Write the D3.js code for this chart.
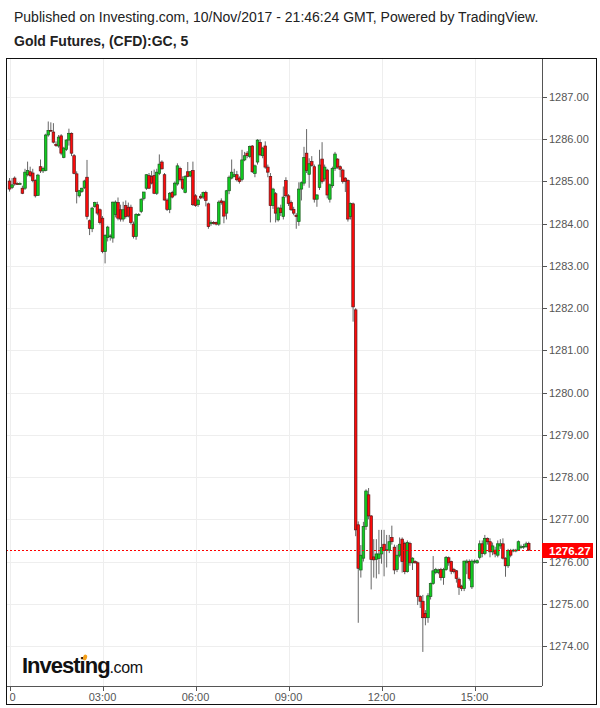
<!DOCTYPE html>
<html><head><meta charset="utf-8">
<script src="https://cdn.jsdelivr.net/npm/d3@7"></script>
<style>body{margin:0;background:#fff;}svg{display:block;font-family:"Liberation Sans",Arial,sans-serif;}</style>
</head><body><svg id="c" width="600" height="708"></svg>
<script>
// ---- data (5-minute candles, index 0 = 00:00) ----
const opens = [1285.01,1284.86,1285.08,1284.95,1284.94,1284.84,1284.84,1285.16,1285.23,1285.20,1285.02,1284.67,1285.35,1285.25,1285.26,1286.10,1286.21,1286.17,1285.88,1285.84,1286.08,1285.57,1285.76,1285.98,1286.14,1285.61,1285.18,1284.66,1284.76,1284.86,1285.10,1284.07,1283.88,1284.41,1284.45,1284.33,1284.13,1283.34,1283.67,1283.70,1283.66,1284.22,1284.50,1284.33,1284.11,1284.43,1284.39,1284.39,1283.99,1283.70,1284.20,1284.29,1284.60,1284.84,1285.14,1285.12,1285.14,1284.72,1285.19,1285.46,1285.16,1284.56,1284.34,1284.74,1284.68,1284.94,1285.31,1285.05,1284.74,1285.23,1285.13,1285.26,1284.66,1284.45,1284.65,1284.63,1284.74,1284.47,1284.00,1284.03,1284.03,1283.99,1284.54,1284.52,1284.25,1284.78,1285.08,1285.12,1285.16,1285.08,1285.05,1285.51,1285.67,1285.59,1285.84,1285.19,1285.46,1285.92,1285.61,1285.84,1285.34,1285.12,1284.43,1284.71,1284.09,1284.37,1284.17,1285.02,1284.66,1284.50,1284.34,1284.20,1284.05,1284.82,1284.96,1285.67,1285.17,1285.47,1285.35,1284.58,1284.86,1285.53,1285.06,1285.27,1284.58,1284.90,1285.31,1285.53,1285.35,1285.27,1285.08,1285.02,1284.17,1284.47,1281.96,1276.87,1275.80,1276.08,1276.83,1277.58,1277.08,1276.11,1276.05,1276.07,1276.18,1276.41,1276.26,1276.27,1276.57,1276.34,1275.81,1276.15,1276.53,1276.43,1275.76,1276.43,1275.97,1276.00,1275.97,1275.17,1275.06,1274.77,1274.67,1275.17,1275.48,1275.74,1275.74,1275.81,1275.62,1275.81,1276.09,1276.00,1275.81,1275.78,1275.58,1275.42,1275.36,1275.97,1276.00,1275.40,1275.99,1275.97,1276.10,1276.42,1276.19,1276.55,1276.47,1276.23,1276.27,1276.15,1276.37,1276.42,1276.08,1275.90,1276.26,1276.25,1276.25,1276.27,1276.33,1276.35,1276.35,1276.43];
const highs = [1285.08,1285.08,1285.12,1284.98,1284.98,1284.90,1285.30,1285.47,1285.35,1285.30,1285.05,1285.18,1285.52,1285.35,1286.13,1286.42,1286.40,1286.38,1285.95,1286.10,1286.12,1285.82,1286.00,1286.25,1286.16,1285.65,1285.24,1284.80,1284.85,1285.04,1285.51,1284.10,1284.40,1284.52,1284.52,1284.36,1284.18,1283.75,1283.95,1283.75,1284.52,1284.55,1284.62,1284.45,1284.52,1284.55,1284.50,1284.45,1284.05,1284.25,1284.25,1284.60,1284.75,1285.17,1285.20,1285.25,1285.28,1285.30,1285.64,1285.50,1285.20,1284.60,1284.75,1284.78,1285.00,1285.43,1285.35,1285.12,1285.15,1285.46,1285.25,1285.47,1284.70,1284.60,1284.70,1284.76,1284.78,1284.50,1284.08,1284.06,1284.05,1284.55,1284.60,1284.55,1284.80,1285.14,1285.52,1285.30,1285.25,1285.12,1285.75,1285.70,1285.72,1285.85,1285.86,1285.40,1286.00,1286.00,1285.82,1285.95,1285.40,1285.20,1284.85,1284.75,1284.40,1284.45,1284.88,1285.10,1284.70,1284.55,1284.40,1284.25,1284.98,1285.00,1285.82,1286.24,1285.55,1285.60,1285.40,1284.70,1285.75,1285.93,1285.40,1285.30,1284.95,1285.35,1285.70,1285.55,1285.38,1285.30,1285.10,1285.05,1284.50,1284.50,1282.00,1276.95,1276.39,1276.94,1277.71,1277.74,1277.10,1276.53,1276.53,1276.75,1276.75,1276.75,1276.63,1276.63,1276.85,1276.40,1276.39,1276.57,1276.57,1276.47,1276.50,1276.47,1276.10,1276.03,1276.00,1275.20,1275.21,1274.85,1275.25,1275.50,1276.13,1275.85,1275.83,1275.85,1275.85,1276.13,1276.12,1276.02,1275.85,1275.80,1275.62,1275.45,1276.02,1276.05,1276.05,1276.05,1276.05,1276.05,1276.50,1276.50,1276.63,1276.57,1276.55,1276.45,1276.35,1276.50,1276.53,1276.55,1276.10,1276.30,1276.30,1276.30,1276.30,1276.50,1276.40,1276.42,1276.47,1276.47];
const lows = [1284.76,1284.82,1284.90,1284.92,1284.92,1284.70,1284.80,1285.12,1285.10,1284.98,1284.62,1284.66,1285.20,1285.20,1285.24,1286.06,1286.18,1285.90,1285.82,1285.80,1285.62,1285.55,1285.72,1285.85,1285.60,1285.17,1284.48,1284.62,1284.73,1284.82,1284.10,1283.73,1283.80,1284.38,1284.20,1283.98,1283.30,1283.06,1283.58,1283.60,1283.55,1284.15,1284.08,1284.05,1284.05,1284.12,1284.15,1283.98,1283.65,1283.62,1284.18,1284.25,1284.55,1284.80,1284.82,1284.93,1284.70,1284.68,1285.15,1285.28,1284.55,1284.30,1284.25,1284.60,1284.65,1284.90,1285.00,1284.80,1284.72,1285.10,1285.10,1284.42,1284.40,1284.40,1284.58,1284.58,1284.41,1283.88,1283.95,1283.98,1283.96,1283.95,1284.45,1284.01,1284.10,1284.70,1285.05,1285.10,1285.00,1284.95,1285.00,1285.48,1285.55,1285.55,1285.20,1285.10,1285.40,1285.60,1285.55,1285.30,1285.10,1284.03,1284.35,1284.03,1284.05,1284.18,1284.10,1284.62,1284.42,1284.30,1284.20,1283.88,1283.95,1284.55,1284.90,1285.20,1284.85,1285.35,1284.50,1284.40,1284.80,1284.95,1285.00,1284.60,1284.50,1284.85,1285.25,1285.30,1285.10,1284.95,1284.75,1284.05,1284.10,1281.68,1276.60,1274.55,1275.62,1276.00,1276.75,1277.00,1275.34,1275.62,1275.60,1275.70,1275.95,1275.65,1275.86,1276.20,1276.40,1275.70,1275.75,1276.10,1275.74,1275.70,1275.74,1275.90,1275.80,1275.95,1274.97,1274.90,1273.86,1274.49,1274.55,1275.10,1275.45,1275.70,1275.70,1275.55,1275.45,1275.78,1275.90,1275.70,1275.72,1275.50,1275.21,1275.30,1275.30,1275.70,1275.55,1275.35,1275.95,1275.95,1276.05,1276.10,1276.15,1276.40,1276.10,1276.15,1276.10,1276.10,1276.30,1276.05,1275.64,1275.85,1276.10,1276.22,1276.22,1276.25,1276.30,1276.30,1276.33,1276.25];
const closes = [1284.82,1284.92,1284.94,1284.94,1284.95,1284.72,1285.22,1285.26,1285.14,1285.02,1284.66,1285.15,1285.25,1285.31,1286.10,1286.21,1286.20,1285.93,1285.85,1286.05,1285.67,1285.79,1285.98,1286.14,1285.67,1285.19,1284.76,1284.78,1284.84,1285.01,1284.17,1283.89,1284.37,1284.50,1284.25,1284.03,1283.34,1283.72,1283.92,1283.71,1284.51,1284.51,1284.13,1284.11,1284.33,1284.17,1284.18,1284.03,1283.70,1284.22,1284.22,1284.58,1284.75,1285.16,1284.84,1284.96,1284.72,1285.22,1285.41,1285.30,1284.56,1284.34,1284.72,1284.63,1284.96,1285.37,1285.04,1284.84,1285.12,1285.12,1285.23,1284.45,1284.43,1284.56,1284.61,1284.74,1284.55,1283.93,1284.03,1284.01,1283.99,1284.51,1284.50,1284.18,1284.78,1285.10,1285.22,1285.16,1285.04,1285.00,1285.51,1285.61,1285.61,1285.83,1285.23,1285.37,1285.98,1285.63,1285.79,1285.34,1285.22,1284.43,1284.82,1284.25,1284.37,1284.26,1284.63,1284.66,1284.48,1284.33,1284.25,1284.17,1284.82,1284.97,1285.57,1285.26,1285.42,1285.38,1284.58,1284.68,1285.39,1285.00,1285.34,1284.68,1284.92,1285.31,1285.65,1285.34,1285.29,1285.00,1285.00,1284.11,1284.48,1282.03,1276.75,1275.84,1276.15,1276.83,1277.67,1277.08,1276.05,1276.04,1276.18,1276.18,1276.33,1276.26,1276.28,1276.47,1276.47,1275.80,1276.15,1276.41,1276.00,1275.76,1276.45,1275.97,1276.08,1275.97,1275.17,1275.06,1274.67,1274.67,1275.19,1275.48,1275.78,1275.81,1275.80,1275.62,1275.81,1276.10,1275.97,1275.77,1275.76,1275.60,1275.39,1275.36,1276.01,1276.01,1275.60,1276.01,1276.01,1276.02,1276.42,1276.19,1276.55,1276.47,1276.23,1276.37,1276.18,1276.42,1276.42,1276.08,1275.90,1276.26,1276.15,1276.27,1276.27,1276.47,1276.35,1276.36,1276.42,1276.27];
const yTickValues = [1274,1275,1276,1277,1278,1279,1280,1281,1282,1283,1284,1285,1286,1287];
const xTickHours = [0,3,6,9,12,15];
const xTickLabels = ["10","03:00","06:00","09:00","12:00","15:00"];
const lastPrice = 1276.27;
const candlesPerHour = 12;

// ---- drawing ----
const svg = d3.select("#c");
const plotL = 6, plotR = 542, plotT = 58, plotB = 686;
const x = d3.scaleLinear().domain([0, 15*candlesPerHour]).range([9.5, 474.5]);
const y = d3.scaleLinear().domain([1274, 1287]).range([646, 97]);

svg.append("rect").attr("width",600).attr("height",708).attr("fill","#fff");

// header
svg.append("text").attr("x",14).attr("y",22).attr("font-size",14).attr("fill","#222")
  .text("Published on Investing.com, 10/Nov/2017 - 21:46:24 GMT, Powered by TradingView.");
svg.append("text").attr("x",14).attr("y",46).attr("font-size",14).attr("font-weight","bold").attr("fill","#222")
  .text("Gold Futures, (CFD):GC, 5");

const defs = svg.append("defs");
defs.append("clipPath").attr("id","plotclip").append("rect")
  .attr("x",plotL+1).attr("y",plotT+1).attr("width",plotR-plotL-1).attr("height",plotB-plotT-1);
defs.append("clipPath").attr("id","labelclip").append("rect")
  .attr("x",9.5).attr("y",687).attr("width",587).attr("height",18);

const plot = svg.append("g").attr("clip-path","url(#plotclip)");

// grid
plot.selectAll("line.hg").data(yTickValues).join("line").attr("class","hg")
  .attr("x1",plotL).attr("x2",plotR).attr("y1",d=>Math.round(y(d))+0.5).attr("y2",d=>Math.round(y(d))+0.5)
  .attr("stroke","#eeeeee");
plot.selectAll("line.vg").data(xTickHours).join("line").attr("class","vg")
  .attr("x1",d=>Math.round(x(d*candlesPerHour))+0.5).attr("x2",d=>Math.round(x(d*candlesPerHour))+0.5)
  .attr("y1",plotT).attr("y2",plotB).attr("stroke","#eeeeee");

// candles
const idx = d3.range(opens.length);
plot.selectAll("line.wick").data(idx).join("line").attr("class","wick")
  .attr("x1",i=>x(i)).attr("x2",i=>x(i))
  .attr("y1",i=>y(highs[i])).attr("y2",i=>y(lows[i]))
  .attr("stroke","#666").attr("stroke-width",1);
plot.selectAll("rect.body").data(idx).join("rect").attr("class","body")
  .attr("x",i=>x(i)-1.3).attr("width",2.6)
  .attr("y",i=>y(Math.max(opens[i],closes[i])))
  .attr("height",i=>Math.max(0.8, Math.abs(y(opens[i])-y(closes[i]))))
  .attr("fill",i=>closes[i]>=opens[i] ? "#10cc20" : "#ff0a0a")
  .attr("stroke",i=>closes[i]>=opens[i] ? "#1d5a20" : "#5c1818")
  .attr("stroke-width",0.7);

// last price line
plot.append("line").attr("x1",plotL).attr("x2",plotR)
  .attr("y1",Math.round(y(lastPrice))+0.5).attr("y2",Math.round(y(lastPrice))+0.5)
  .attr("stroke","#ff0000").attr("stroke-dasharray","2,2");

// logo
const logo = svg.append("text").attr("x",22).attr("y",673).attr("fill","#111");
logo.append("tspan").attr("font-size",22).attr("font-weight","bold").attr("letter-spacing",-1).text("Investing");
logo.append("tspan").attr("font-size",16).attr("letter-spacing",-0.4).text(".com");
svg.append("ellipse").attr("cx",85).attr("cy",657.5).attr("rx",2).attr("ry",3)
  .attr("transform","rotate(20,85,657.5)").attr("fill","#f5a11c");

// y axis
svg.append("line").attr("x1",plotR+0.5).attr("x2",plotR+0.5).attr("y1",plotT).attr("y2",plotB).attr("stroke","#555");
const yAxis = svg.append("g");
yAxis.selectAll("line").data(yTickValues).join("line")
  .attr("x1",plotR).attr("x2",plotR+5).attr("y1",d=>Math.round(y(d))+0.5).attr("y2",d=>Math.round(y(d))+0.5).attr("stroke","#555");
yAxis.selectAll("text").data(yTickValues).join("text")
  .attr("x",plotR+7).attr("y",d=>y(d)+4).attr("font-size",11).attr("fill","#555")
  .text(d=>d3.format(".2f")(d));

// last price label
const ly = Math.round(y(lastPrice));
svg.append("rect").attr("x",plotR).attr("y",ly-7).attr("width",51).attr("height",15).attr("fill","#ff0000");
svg.append("text").attr("x",plotR+7).attr("y",ly+4.5).attr("font-size",11.5).attr("font-weight","bold").attr("fill","#fff")
  .text(d3.format(".2f")(lastPrice));

// x axis
svg.append("line").attr("x1",plotL).attr("x2",plotR).attr("y1",plotB+0.5).attr("y2",plotB+0.5).attr("stroke","#555");
svg.append("g").selectAll("line").data(xTickHours).join("line")
  .attr("x1",d=>Math.round(x(d*candlesPerHour))+0.5).attr("x2",d=>Math.round(x(d*candlesPerHour))+0.5)
  .attr("y1",plotB).attr("y2",plotB+5).attr("stroke","#555");
svg.append("g").attr("clip-path","url(#labelclip)").selectAll("text").data(xTickHours).join("text")
  .attr("x",d=>x(d*candlesPerHour)).attr("y",701).attr("text-anchor","middle")
  .attr("font-size",11).attr("fill","#555")
  .text((d,i)=>xTickLabels[i]);

// outer frame
svg.append("rect").attr("x",6.5).attr("y",58.5).attr("width",590).attr("height",646)
  .attr("fill","none").attr("stroke","#111");
</script></body></html>
